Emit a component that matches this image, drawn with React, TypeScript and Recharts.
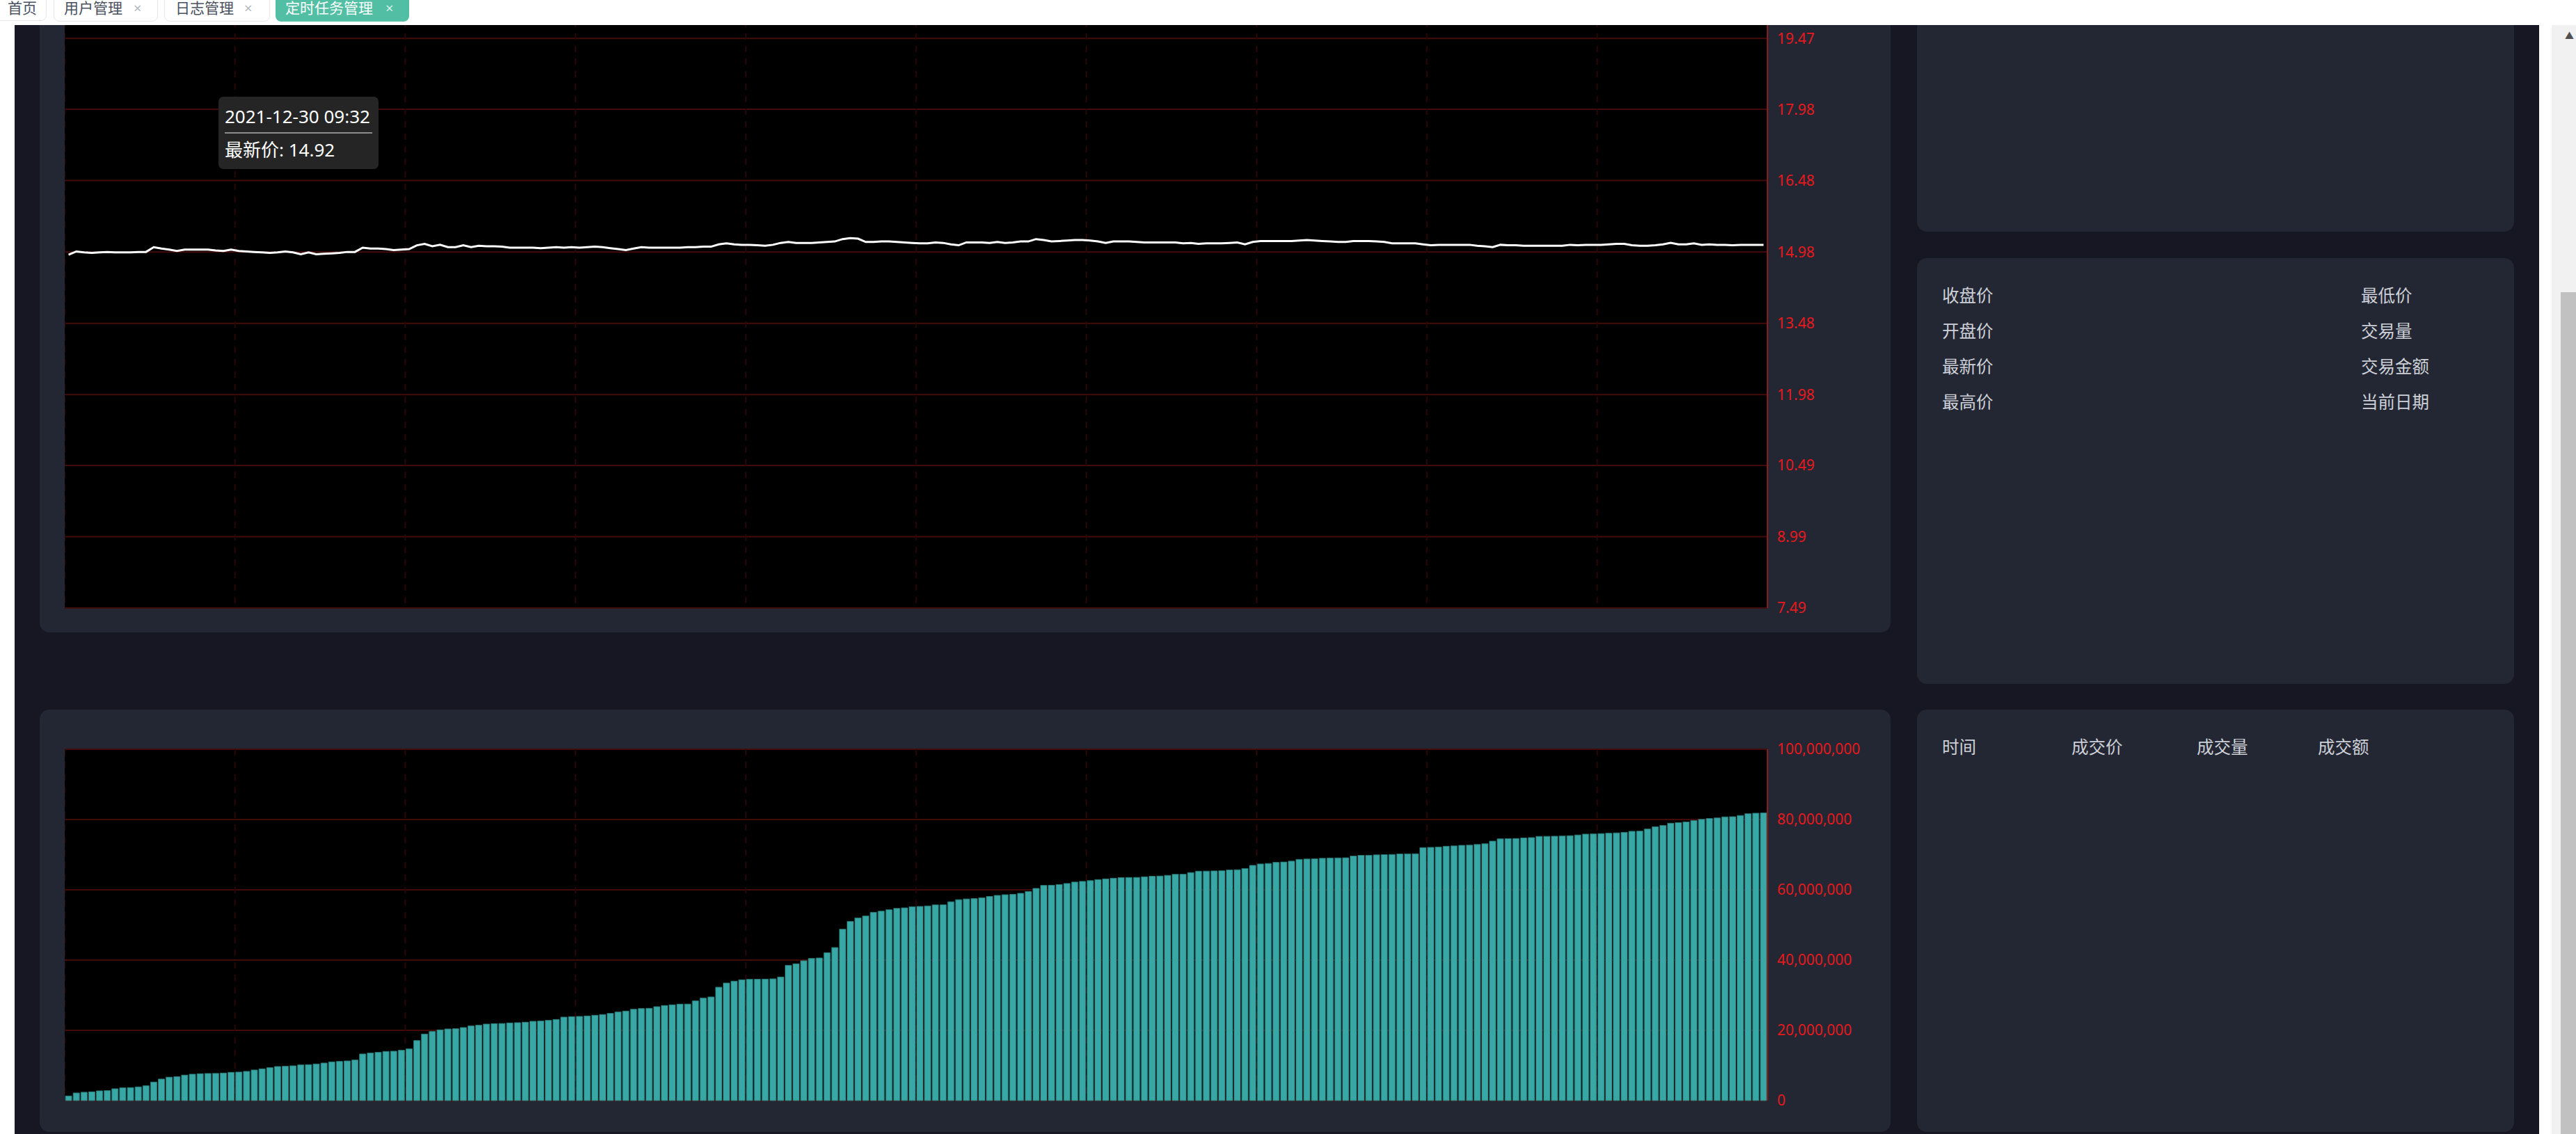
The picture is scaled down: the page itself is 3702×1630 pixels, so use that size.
import React from "react";
import { LineChart, Line, BarChart, Bar, XAxis, YAxis, CartesianGrid, Tooltip } from "recharts";

const TRADE_DATE = "2021-12-30";

function sessionMinutes(h0: number, m0: number, h1: number, m1: number): string[] {
  const out: string[] = [];
  for (let t = h0 * 60 + m0; t <= h1 * 60 + m1; t++) {
    const h = Math.floor(t / 60);
    const m = t % 60;
    out.push(`${String(h).padStart(2, "0")}:${String(m).padStart(2, "0")}`);
  }
  return out;
}
const TIMES = [...sessionMinutes(9, 32, 11, 30), ...sessionMinutes(13, 1, 14, 41)];

const PRICES = [
  14.92, 14.99, 14.97, 14.96, 14.97, 14.98, 14.97, 14.97, 14.97, 14.98,
  14.98, 15.08, 15.05, 15.03, 15.0, 15.03, 15.03, 15.03, 15.03, 15.01,
  15.0, 15.03, 15.0, 14.99, 14.98, 14.97, 14.96, 14.97, 14.99, 14.97,
  14.93, 14.97, 14.93, 14.94, 14.95, 14.96, 14.98, 14.98, 15.07, 15.05,
  15.05, 15.04, 15.02, 15.03, 15.04, 15.12, 15.15, 15.1, 15.13, 15.08,
  15.08, 15.12, 15.08, 15.11, 15.1, 15.1, 15.09, 15.07, 15.07, 15.07,
  15.07, 15.06, 15.07, 15.08, 15.07, 15.08, 15.07, 15.08, 15.09, 15.08,
  15.06, 15.04, 15.02, 15.05, 15.08, 15.07, 15.07, 15.07, 15.07, 15.07,
  15.08, 15.08, 15.09, 15.09, 15.14, 15.16, 15.14, 15.13, 15.13, 15.12,
  15.11, 15.13, 15.17, 15.19, 15.17, 15.17, 15.17, 15.18, 15.19, 15.2,
  15.25, 15.27, 15.26, 15.19, 15.19, 15.2, 15.2, 15.19, 15.18, 15.17,
  15.16, 15.16, 15.18, 15.17, 15.14, 15.12, 15.18, 15.18, 15.18, 15.17,
  15.19, 15.17, 15.18, 15.2, 15.2, 15.25, 15.23, 15.2, 15.21, 15.22,
  15.23, 15.23, 15.22, 15.2, 15.17, 15.2, 15.2, 15.2, 15.19, 15.18,
  15.18, 15.18, 15.18, 15.18, 15.16, 15.17, 15.15, 15.16, 15.16, 15.16,
  15.17, 15.18, 15.14, 15.19, 15.21, 15.21, 15.21, 15.21, 15.21, 15.22,
  15.23, 15.22, 15.21, 15.2, 15.19, 15.19, 15.21, 15.21, 15.21, 15.2,
  15.19, 15.16, 15.16, 15.16, 15.16, 15.14, 15.12, 15.13, 15.13, 15.13,
  15.13, 15.13, 15.11, 15.1, 15.08, 15.13, 15.12, 15.12, 15.11, 15.11,
  15.11, 15.11, 15.11, 15.11, 15.13, 15.12, 15.13, 15.13, 15.13, 15.14,
  15.15, 15.15, 15.12, 15.11, 15.11, 15.12, 15.14, 15.17, 15.14, 15.14,
  15.16, 15.13, 15.14, 15.13, 15.13, 15.12, 15.13, 15.13, 15.13, 15.13,
];

const CUM_VOLUMES = [
  1320000, 2180000, 2380000, 2500000, 2770000, 2840000, 3370000, 3630000, 3700000, 3900000,
  4220000, 5280000, 6140000, 6670000, 6800000, 7260000, 7520000, 7660000, 7720000, 7740000,
  7850000, 8050000, 8120000, 8320000, 8710000, 9040000, 9370000, 9700000, 9770000, 9900000,
  10160000, 10230000, 10430000, 10690000, 11020000, 11150000, 11290000, 11550000, 13270000, 13530000,
  13730000, 13990000, 14060000, 14320000, 14720000, 17090000, 18940000, 19670000, 20130000, 20390000,
  20460000, 20790000, 21250000, 21450000, 21780000, 21910000, 21950000, 22110000, 22180000, 22310000,
  22570000, 22640000, 22840000, 23100000, 23760000, 23890000, 23960000, 24090000, 24290000, 24490000,
  24820000, 25210000, 25480000, 26000000, 26200000, 26270000, 26730000, 27060000, 27260000, 27460000,
  27480000, 28380000, 29170000, 29500000, 32270000, 33460000, 33990000, 34390000, 34520000, 34540000,
  34580000, 34650000, 35180000, 38480000, 38940000, 39800000, 40460000, 40590000, 42100000, 43560000,
  48770000, 51000000, 52000000, 52540000, 53590000, 53920000, 54320000, 54700000, 54850000, 55180000,
  55260000, 55400000, 55700000, 55720000, 56600000, 57200000, 57400000, 57500000, 57700000, 58100000,
  58400000, 58600000, 58700000, 59000000, 59500000, 60400000, 61250000, 61300000, 61500000, 61800000,
  62200000, 62400000, 62600000, 62900000, 63100000, 63300000, 63450000, 63500000, 63520000, 63700000,
  63850000, 63920000, 64100000, 64400000, 64420000, 64900000, 65300000, 65320000, 65370000, 65420000,
  65650000, 65700000, 66050000, 66950000, 67350000, 67500000, 67800000, 67900000, 68150000, 68650000,
  68750000, 68800000, 68950000, 69050000, 69070000, 69100000, 69600000, 69800000, 69820000, 69930000,
  70000000, 70050000, 70200000, 70220000, 70250000, 72000000, 72070000, 72150000, 72400000, 72500000,
  72650000, 72700000, 72900000, 73100000, 73850000, 74500000, 74550000, 74600000, 74750000, 74850000,
  75200000, 75220000, 75250000, 75300000, 75400000, 75600000, 75850000, 75900000, 76000000, 76100000,
  76200000, 76350000, 76650000, 76700000, 77300000, 77950000, 78300000, 78950000, 79100000, 79300000,
  79700000, 80050000, 80300000, 80450000, 80750000, 80800000, 81150000, 81650000, 81800000, 81900000,
];

const PRICE_TICKS = [7.49, 8.99, 10.49, 11.98, 13.48, 14.98, 16.48, 17.98, 19.47];
const PRICE_DOMAIN: [number, number] = [7.49, 19.84];
const VOLUME_TICKS = [0, 20000000, 40000000, 60000000, 80000000, 100000000];
const VOLUME_DOMAIN: [number, number] = [0, 100000000];
const GRID_SPLITS = [0, 22, 44, 66, 88, 110, 132, 154, 176, 198, 220];

const QUOTE_LEFT = ["收盘价", "开盘价", "最新价", "最高价"];
const QUOTE_RIGHT = ["最低价", "交易量", "交易金额", "当前日期"];
const TRADE_HEADERS = ["时间", "成交价", "成交量", "成交额"];
const TABS = ["首页", "用户管理", "日志管理", "定时任务管理"];

const ROWS = TIMES.map((time, i) => ({ idx: i, time, price: PRICES[i], volume: CUM_VOLUMES[i] }));

const FONT = '"Noto Sans", "Noto Sans CJK SC", sans-serif';
const PAGE_BG = "#161722";
const PANEL_BG = "#232733";
const AXIS_RED = "#8a1c1c";
const GRID_RED = "#440b0b";
const VGRID_RED = "#2a0707";
const LABEL_RED = "#e8191c";
const PANEL_TEXT = "#cdd0d7";

const PLOT_W = 2447;
const AXIS_W = 177;

function PriceTip({ active, payload, label }: any) {
  if (!active || !payload || !payload.length) return null;
  return (
    <div
      style={{
        background: "#252525",
        borderRadius: 7,
        padding: 9,
        color: "#fff",
        fontSize: 26,
        lineHeight: "38px",
        width: 212,
        fontFamily: FONT,
        whiteSpace: "nowrap",
      }}
    >
      <div style={{ borderBottom: "2px solid #8c8c8c", paddingBottom: 4 }}>{`${TRADE_DATE} ${label}`}</div>
      <div style={{ paddingTop: 4 }}>{`最新价: ${payload[0].value}`}</div>
    </div>
  );
}

const box = (left: number, top: number, width: number, height: number, extra: any = {}) => ({
  position: "absolute" as const,
  left,
  top,
  width,
  height,
  ...extra,
});

const fmtVol = (v: number) => v.toLocaleString("en-US");

export default function App() {
  const tick = { fill: LABEL_RED, fontSize: 21, fontFamily: FONT };
  const tabText = { fontSize: 21, lineHeight: "19px" };
  const closeText = { fontSize: 20, lineHeight: "19px" };
  return (
    <div style={{ position: "relative", width: 3702, height: 1630, overflow: "hidden", background: "#fff", fontFamily: FONT }}>
      <style>{`body{margin:0;}`}</style>

      {/* dark page area */}
      <div style={box(21, 36, 3628, 1594, { background: PAGE_BG })} />

      {/* panels */}
      <div style={box(57, -30, 2660, 939, { background: PANEL_BG, borderRadius: 14 })} />
      <div style={box(57, 1020, 2660, 607, { background: PANEL_BG, borderRadius: 14 })} />
      <div style={box(2755, -30, 858, 363, { background: PANEL_BG, borderRadius: 14 })} />
      <div style={box(2755, 371, 858, 612, { background: PANEL_BG, borderRadius: 14 })} />
      <div style={box(2755, 1020, 858, 607, { background: PANEL_BG, borderRadius: 14 })} />

      {/* price line chart */}
      <div style={box(93, 30, PLOT_W + AXIS_W, 864)}>
        <LineChart width={PLOT_W + AXIS_W} height={864} data={ROWS} margin={{ top: 0, right: 0, bottom: 20, left: 0 }}>
          <CartesianGrid vertical={false} stroke={GRID_RED} strokeWidth={2} fill="#000" fillOpacity={1} />
          <CartesianGrid horizontal={false} xAxisId="grid" stroke={VGRID_RED} strokeWidth={2} strokeDasharray="9 9" />
          <XAxis dataKey="time" scale="band" height={0} tick={false} tickLine={false} axisLine={{ stroke: AXIS_RED, strokeWidth: 2 }} />
          <XAxis xAxisId="grid" type="number" dataKey="idx" domain={[0, 220]} ticks={GRID_SPLITS} interval={0} hide allowDataOverflow />
          <YAxis
            orientation="right"
            width={AXIS_W}
            domain={PRICE_DOMAIN}
            ticks={PRICE_TICKS}
            interval={0}
            allowDataOverflow
            tickSize={0}
            tickMargin={14}
            tickLine={false}
            axisLine={{ stroke: AXIS_RED, strokeWidth: 2 }}
            tick={tick}
          />
          <Line type="linear" dataKey="price" stroke="#ffffff" strokeWidth={3} dot={false} activeDot={false} isAnimationActive={false} />
          <Tooltip
            content={<PriceTip />}
            defaultIndex={0}
            active
            cursor={false}
            position={{ x: 221, y: 109 }}
            isAnimationActive={false}
            wrapperStyle={{ zIndex: 10 }}
          />
        </LineChart>
      </div>

      {/* cumulative volume bar chart */}
      <div style={box(93, 1062, PLOT_W + AXIS_W, 540)}>
        <BarChart width={PLOT_W + AXIS_W} height={540} data={ROWS} margin={{ top: 15, right: 0, bottom: 20, left: 0 }} barCategoryGap="9.5%">
          <CartesianGrid vertical={false} stroke={GRID_RED} strokeWidth={2} fill="#000" fillOpacity={1} />
          <CartesianGrid horizontal={false} xAxisId="grid" stroke={VGRID_RED} strokeWidth={2} strokeDasharray="9 9" />
          <XAxis dataKey="time" height={0} tick={false} tickLine={false} axisLine={{ stroke: AXIS_RED, strokeWidth: 2 }} />
          <XAxis xAxisId="grid" type="number" dataKey="idx" domain={[0, 220]} ticks={GRID_SPLITS} interval={0} hide allowDataOverflow />
          <YAxis
            orientation="right"
            width={AXIS_W}
            domain={VOLUME_DOMAIN}
            ticks={VOLUME_TICKS}
            interval={0}
            tickSize={0}
            tickMargin={14}
            tickLine={false}
            axisLine={{ stroke: AXIS_RED, strokeWidth: 2 }}
            tick={tick}
            tickFormatter={fmtVol}
          />
          <Bar dataKey="volume" fill="#38a8a6" stroke="#2a7a78" strokeWidth={1} isAnimationActive={false} />
        </BarChart>
      </div>

      {/* quote panel text */}
      {QUOTE_LEFT.map((t, i) => (
        <div key={t} style={box(2791, 425 - 17 + i * 51, 300, 34, { color: PANEL_TEXT, fontSize: 24.5, lineHeight: "34px" })}>{t}</div>
      ))}
      {QUOTE_RIGHT.map((t, i) => (
        <div key={t} style={box(3393, 425 - 17 + i * 51, 200, 34, { color: PANEL_TEXT, fontSize: 24.5, lineHeight: "34px" })}>{t}</div>
      ))}
      {TRADE_HEADERS.map((t, i) => (
        <div key={t} style={box([2791, 2977, 3157, 3331][i], 1074 - 17, 160, 34, { color: PANEL_TEXT, fontSize: 24.5, lineHeight: "34px" })}>{t}</div>
      ))}

      {/* tab bar */}
      <div style={box(0, 0, 3702, 36, { background: "#fff", zIndex: 20 })}>
        <div style={box(-10, -20, 77, 50, { border: "1px solid #e4e7ed", borderRadius: 8, boxSizing: "border-box" })} />
        <div style={box(11, 2, 60, 19, { color: "#495060", ...tabText })}>{TABS[0]}</div>

        <div style={box(77, -20, 150, 51, { border: "1px solid #e4e7ed", borderRadius: 8, boxSizing: "border-box" })} />
        <div style={box(92, 2, 100, 19, { color: "#495060", ...tabText })}>{TABS[1]}</div>
        <div style={box(192, 2, 18, 19, { color: "#b4b8bf", ...closeText })}>×</div>

        <div style={box(236, -20, 152, 51, { border: "1px solid #e4e7ed", borderRadius: 8, boxSizing: "border-box" })} />
        <div style={box(252, 2, 100, 19, { color: "#495060", ...tabText })}>{TABS[2]}</div>
        <div style={box(351, 2, 18, 19, { color: "#b4b8bf", ...closeText })}>×</div>

        <div style={box(396, -20, 192, 51, { background: "#52bfa5", borderRadius: 8 })} />
        <div style={box(410, 2, 140, 19, { color: "#fff", ...tabText })}>{TABS[3]}</div>
        <div style={box(554, 2, 18, 19, { color: "#d6efe9", ...closeText })}>×</div>
      </div>

      {/* scrollbar */}
      <div style={box(3667, 36, 35, 1594, { background: "#f1f1f1" })} />
      <div style={box(3680, 420, 22, 1210, { background: "#c1c1c1" })} />
      <div style={box(3686, 44, 14, 14, { color: "#505050", fontSize: 13, lineHeight: "14px" })}>▲</div>
    </div>
  );
}
